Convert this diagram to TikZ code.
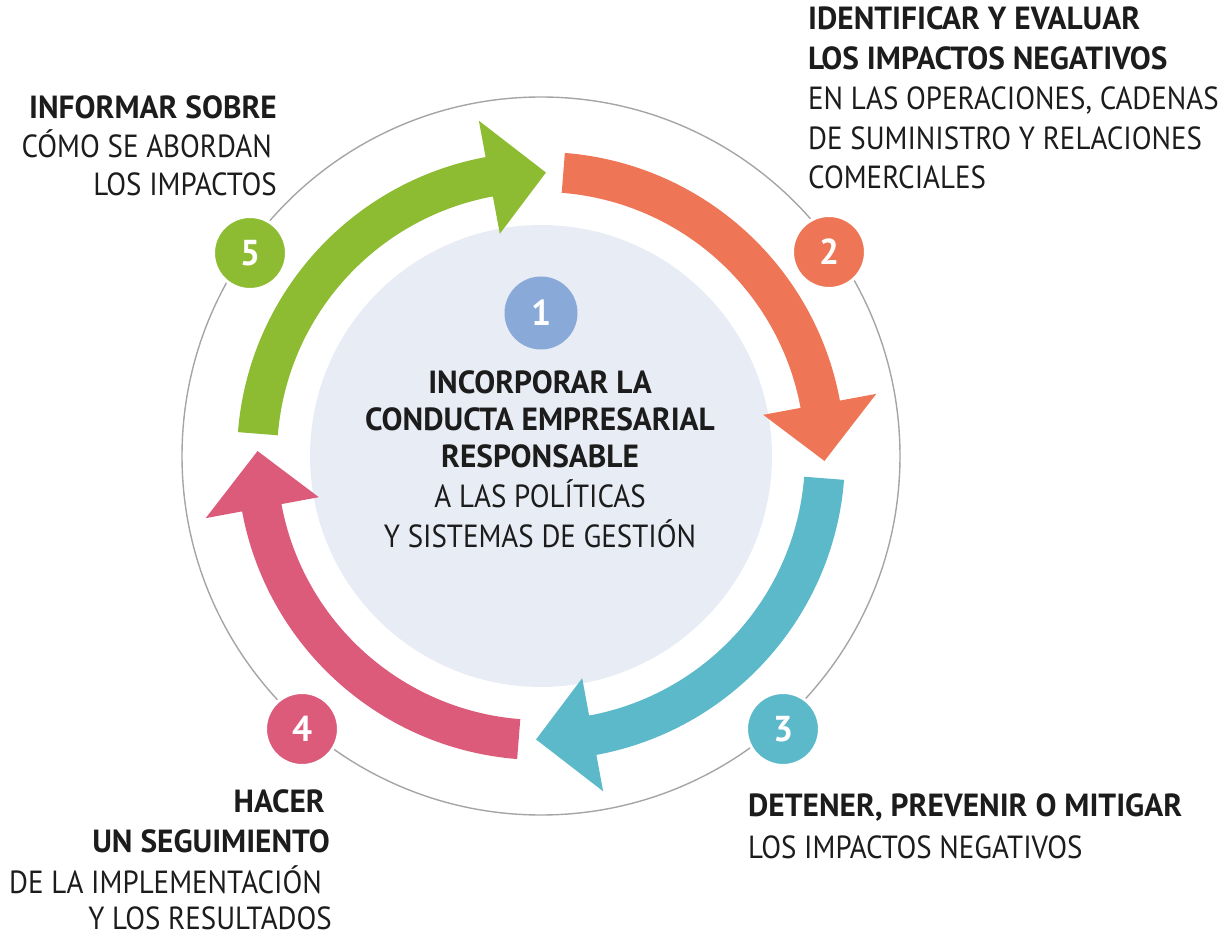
\documentclass[tikz,border=0pt]{standalone}
\usepackage{fontspec}
\setmainfont{PT Sans}[FakeStretch=0.905, BoldFeatures={FakeStretch=0.98}]
\definecolor{cgreen}{RGB}{141,188,51}
\definecolor{corange}{RGB}{238,118,86}
\definecolor{cteal}{RGB}{92,185,201}
\definecolor{cpink}{RGB}{220,90,122}
\definecolor{cblue}{RGB}{137,170,216}
\definecolor{cinner}{RGB}{232,236,245}
\definecolor{cring}{RGB}{165,165,165}
\definecolor{txt}{RGB}{28,28,28}
\newcommand\cycarrow[4]{%
  \fill[#1] (#2:304) arc[start angle=#2, end angle=#3, radius=304]
    -- (#3:341) -- (#4:283.5) -- (#3:226) -- (#3:264)
    arc[start angle=#3, end angle=#2, radius=264] -- cycle;}
\begin{document}
\begin{tikzpicture}[x=1pt,y=1pt,
  lbl/.style={inner sep=0pt, text=txt, font=\fontsize{32}{38}\selectfont},
  hd/.style={inner sep=0pt, text=txt, font=\fontsize{32}{38}\selectfont\bfseries},
  badge/.style={circle, minimum size=73pt, inner sep=0pt, draw=white, line width=3pt,
    text=white, font=\fontsize{36}{40}\selectfont\bfseries},
  ring/.style={draw=cring, line width=1.4pt}]
\useasboundingbox (0,0) rectangle (1224,938);
\coordinate (C) at (541,482);
\fill[cinner] (C) circle (231);
\draw[ring] (C) circle (359);
\begin{scope}[shift={(C)}]
  \cycarrow{cgreen}{175.5}{100.5}{89}
  \cycarrow{corange}{85.5}{10.5}{-1}
  \cycarrow{cteal}{-4.5}{-79.5}{-91}
  \cycarrow{cpink}{-94.5}{-169.5}{-181}
\end{scope}
\node[badge, fill=cblue, draw=none] (b1) at (541,625) {1};
\node[badge, fill=corange] (b2) at (829,686) {2};
\node[badge, fill=cteal] (b3) at (783,209) {3};
\node[badge, fill=cpink] (b4) at (302,209) {4};
\node[badge, fill=cgreen] (b5) at (250,685) {5};
% center
\node[hd, anchor=base] (c1) at (540,544) {INCORPORAR LA};
\node[hd, anchor=base] (c2) at (540,507) {CONDUCTA EMPRESARIAL};
\node[hd, anchor=base] (c3) at (540,470) {RESPONSABLE};
\node[lbl, anchor=base] (c4) at (540,430) {A LAS POLÍTICAS};
\node[lbl, anchor=base] (c5) at (540,390) {Y SISTEMAS DE GESTIÓN};
% step 2
\node[hd, anchor=base west] (t2a) at (808,908) {IDENTIFICAR Y EVALUAR};
\node[hd, anchor=base west] (t2b) at (808,868) {LOS IMPACTOS NEGATIVOS};
\node[lbl, anchor=base west] (t2c) at (808,828) {EN LAS OPERACIONES, CADENAS};
\node[lbl, anchor=base west] (t2d) at (808,788) {DE SUMINISTRO Y RELACIONES};
\node[lbl, anchor=base west] (t2e) at (808,749) {COMERCIALES};
% step 5
\node[hd, anchor=base east] (t5a) at (277,819) {INFORMAR SOBRE};
\node[lbl, anchor=base east] (t5b) at (272,780) {CÓMO SE ABORDAN};
\node[lbl, anchor=base east] (t5c) at (277,742) {LOS IMPACTOS};
% step 3
\node[hd, anchor=base west] (t3a) at (748,122) {DETENER, PREVENIR O MITIGAR};
\node[lbl, anchor=base west] (t3b) at (748,80) {LOS IMPACTOS NEGATIVOS};
% step 4
\node[hd, anchor=base east] (t4a) at (325,126) {HACER};
\node[hd, anchor=base east] (t4b) at (330,86) {UN SEGUIMIENTO};
\node[lbl, anchor=base east] (t4c) at (322,45) {DE LA IMPLEMENTACIÓN};
\node[lbl, anchor=base east] (t4d) at (332,9) {Y LOS RESULTADOS};
\end{tikzpicture}
\end{document}
